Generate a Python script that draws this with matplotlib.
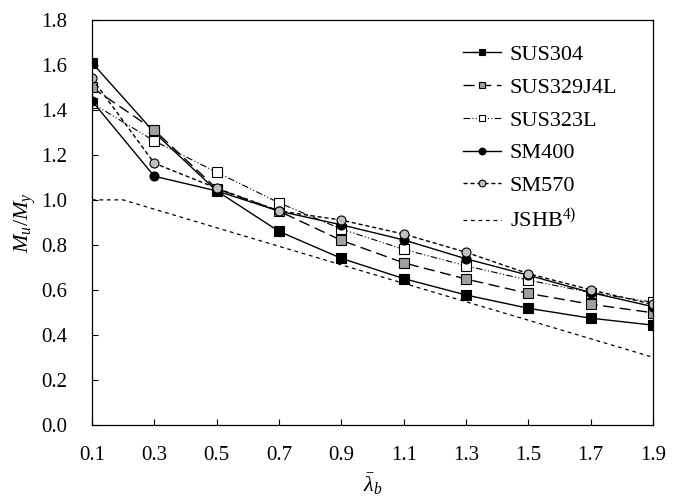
import matplotlib
matplotlib.use("Agg")
import matplotlib.pyplot as plt

plt.rcParams['font.family'] = ['Liberation Serif', 'DejaVu Serif']
plt.rcParams['mathtext.fontset'] = 'custom'
plt.rcParams['mathtext.rm'] = 'Liberation Serif'
plt.rcParams['mathtext.it'] = 'Liberation Serif:italic'
plt.rcParams['mathtext.bf'] = 'Liberation Serif:bold'

x = [0.1, 0.3, 0.5, 0.7, 0.9, 1.1, 1.3, 1.5, 1.7, 1.9]
sus304 = [1.61, 1.30, 1.04, 0.86, 0.74, 0.65, 0.577, 0.518, 0.474, 0.443]
sus329j4l = [1.50, 1.31, 1.05, 0.95, 0.82, 0.72, 0.648, 0.584, 0.536, 0.498]
sus323l = [1.43, 1.262, 1.123, 0.987, 0.87, 0.78, 0.707, 0.643, 0.588, 0.545]
sm400 = [1.44, 1.105, 1.04, 0.95, 0.889, 0.822, 0.738, 0.665, 0.588, 0.525]
sm570 = [1.54, 1.163, 1.052, 0.951, 0.91, 0.848, 0.767, 0.672, 0.60, 0.535]
jshb_x = [0.1, 0.2, 0.5, 1.0, 1.5, 1.9]
jshb_y = [1.0, 1.0, 0.876, 0.67, 0.465, 0.30]

xticks = [0.1, 0.3, 0.5, 0.7, 0.9, 1.1, 1.3, 1.5, 1.7, 1.9]
yticks = [0.0, 0.2, 0.4, 0.6, 0.8, 1.0, 1.2, 1.4, 1.6, 1.8]

fig = plt.figure(figsize=(6.81, 4.98), dpi=100)
ax = fig.add_axes([0.135, 0.147, 0.824, 0.813])

ms = 6.5
ax.plot(x, sus304, color='black', lw=1.0, ls='-', marker='s', ms=ms,
        mfc='black', mec='black', mew=0.8, label='SUS304')
ax.plot(x, sus329j4l, color='black', lw=1.0, ls=(0, (8, 4)), marker='s', ms=ms,
        mfc='#a0a0a0', mec='black', mew=0.8, label='SUS329J4L')
ax.plot(x, sus323l, color='black', lw=0.8, ls=(0, (6, 2, 1, 2, 1, 2)), marker='s', ms=ms,
        mfc='white', mec='black', mew=0.8, label='SUS323L')
ax.plot(x, sm400, color='black', lw=1.0, ls='-', marker='o', ms=ms,
        mfc='black', mec='black', mew=0.8, label='SM400')
ax.plot(x, sm570, color='black', lw=1.0, ls=(0, (3, 2)), marker='o', ms=ms,
        mfc='#c0c0c0', mec='black', mew=0.8, label='SM570')
ax.plot(jshb_x, jshb_y, color='black', lw=0.9, ls=(0, (3, 3)),
        label='JSHB$^{\\mathregular{4)}}$')

ax.set_xlim(0.1, 1.9)
ax.set_ylim(0.0, 1.8)
ax.set_xticks(xticks)
ax.set_xticklabels([f'{v:.1f}' for v in xticks])
ax.set_yticks(yticks)
ax.set_yticklabels([f'{v:.1f}' for v in yticks])
ax.tick_params(direction='in', labelsize=15, length=4.5, width=0.8)
ax.tick_params(axis='x', pad=15)
ax.tick_params(axis='y', pad=18)
for s in ax.spines.values():
    s.set_linewidth(0.9)

ax.set_xlabel(r'$\bar{\lambda}_b$', fontsize=16, labelpad=5)
ax.set_ylabel(r'$M_u/M_y$', fontsize=16, labelpad=2)

leg = ax.legend(loc='upper right', bbox_to_anchor=(0.952, 0.961), fontsize=16,
                frameon=False, handlelength=1.7, labelspacing=0.55,
                handletextpad=0.4, borderaxespad=0.0, markerscale=0.75)

fig.savefig('out.png', dpi=100)
